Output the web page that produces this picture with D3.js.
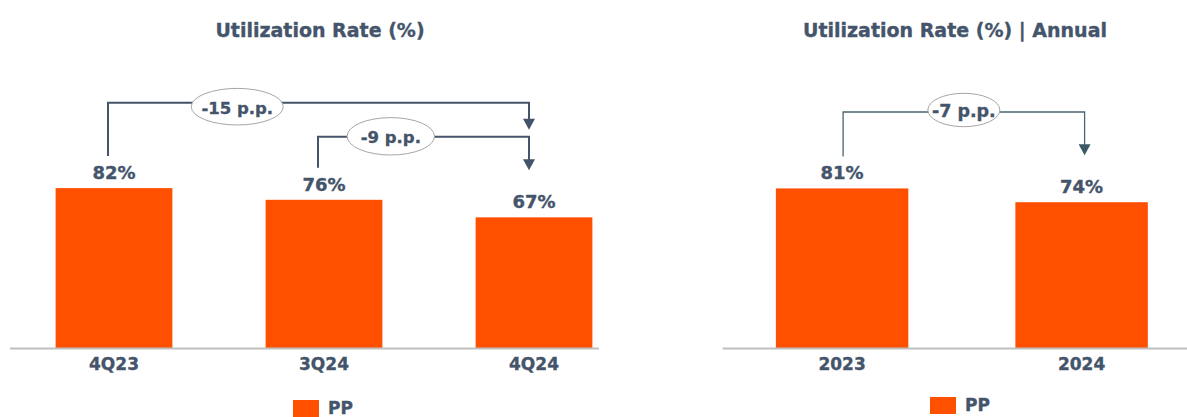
<!DOCTYPE html>
<html>
<head>
<meta charset="utf-8">
<script src="https://cdn.jsdelivr.net/npm/d3@7"></script>
<style>
  html, body { margin: 0; padding: 0; background: #fff; }
  svg { display: block; }
  text { font-family: "DejaVu Sans", Verdana, sans-serif; font-weight: bold; fill: #44546A; stroke: #44546A; stroke-width: 0.35px; }
</style>
</head>
<body>
<svg id="chart" width="1187" height="417"></svg>
<script>
// Quarterly utilization
const quarterCategories = ["4Q23", "3Q24", "4Q24"];
const quarterValues = [82, 76, 67];
const quarterChanges = [
  { from: "4Q23", to: "4Q24" },
  { from: "3Q24", to: "4Q24" }
];

// Annual utilization
const annualCategories = ["2023", "2024"];
const annualValues = [81, 74];
const annualChanges = [
  { from: "2023", to: "2024" }
];

const seriesName = "PP";
const titles = ["Utilization Rate (%)", "Utilization Rate (%) | Annual"];

const BAR = "#FF5000";
const INK = "#44546A";
const svg = d3.select("#chart");

// downward triangular arrowhead with its tip at (x, y)
function arrowHead(g, x, y, color) {
  g.append("path")
    .attr("d", `M${x - 6},${y - 11} L${x + 6},${y - 11} L${x},${y} Z`)
    .attr("fill", color);
}

function drawPanel(cfg) {
  const g = svg.append("g");
  const data = cfg.categories.map((c, i) => ({ cat: c, value: cfg.values[i] }));
  const valueOf = c => data.find(d => d.cat === c).value;

  const x = d3.scaleBand()
    .domain(cfg.categories)
    .range(cfg.xRange)
    .paddingInner(cfg.padInner)
    .paddingOuter(cfg.padOuter);
  const y = d3.scaleLinear().domain([0, 100]).range([348, cfg.yTop]);
  const cx = c => x(c) + x.bandwidth() / 2;

  // title
  g.append("text")
    .attr("x", cfg.titleX).attr("y", 37)
    .attr("text-anchor", "middle")
    .style("font-size", "19px")
    .text(cfg.title);

  // bars
  g.selectAll("rect.bar").data(data).join("rect")
    .attr("class", "bar")
    .attr("x", d => x(d.cat))
    .attr("y", d => y(d.value))
    .attr("width", x.bandwidth())
    .attr("height", d => y(0) - y(d.value))
    .attr("fill", BAR);

  // value labels
  g.selectAll("text.val").data(data).join("text")
    .attr("class", "val")
    .attr("x", d => cx(d.cat))
    .attr("y", d => y(d.value) - 9)
    .attr("text-anchor", "middle")
    .style("font-size", "18px")
    .text(d => d.value + "%");

  // baseline
  g.append("line")
    .attr("x1", cfg.axisExtent[0]).attr("x2", cfg.axisExtent[1])
    .attr("y1", y(0) + 0.5).attr("y2", y(0) + 0.5)
    .attr("stroke", "#BFBFBF").attr("stroke-width", 2);

  // category axis
  const axis = g.append("g")
    .attr("transform", `translate(0,${y(0)})`)
    .call(d3.axisBottom(x).tickSize(0).tickPadding(0));
  axis.select(".domain").remove();
  axis.selectAll("text")
    .attr("y", 22)
    .attr("dy", null)
    .style("font-size", "17px")
    .style("font-family", "'DejaVu Sans', Verdana, sans-serif")
    .style("font-weight", "bold")
    .attr("fill", INK);

  // change brackets
  cfg.changes.forEach((ch, i) => {
    const lay = cfg.bracket[i];
    const v0 = valueOf(ch.from), v1 = valueOf(ch.to);
    const x0 = cx(ch.from) + cfg.dxStart, x1 = cx(ch.to) + cfg.dxEnd;
    const yStart = y(v0) - 32;
    const tip = i === cfg.changes.length - 1 ? y(v1) - 47 : cfg.bracket[i + 1].level - 7;
    g.append("path")
      .attr("d", `M${x0},${yStart} V${lay.level} H${x1} V${tip - 10}`)
      .attr("fill", "none")
      .attr("stroke", cfg.lineColor)
      .attr("stroke-width", cfg.lineWidth);
    arrowHead(g, x1, tip, cfg.arrowColor);
    const ex = x0 + (x1 - x0) * lay.at;
    const ey = lay.level + lay.dy;
    g.append("ellipse")
      .attr("cx", ex).attr("cy", ey)
      .attr("rx", lay.rx).attr("ry", lay.ry)
      .attr("fill", "#fff")
      .attr("stroke", "#A6A6A6").attr("stroke-width", 1);
    g.append("text")
      .attr("x", ex).attr("y", ey + 6.8)
      .attr("text-anchor", "middle")
      .style("font-size", cfg.changeFont)
      .text(`${v1 - v0} p.p.`);
  });

  // legend
  const lg = g.append("g").attr("transform", `translate(${cfg.legend[0]},${cfg.legend[1]})`);
  lg.append("rect").attr("width", 26).attr("height", 17).attr("fill", BAR);
  lg.append("text").attr("x", 35).attr("y", 14).style("font-size", "17px").text(seriesName);
}

drawPanel({
  title: titles[0], titleX: 320,
  categories: quarterCategories, values: quarterValues, changes: quarterChanges,
  xRange: [9, 639], padInner: 0.444, padOuter: 0.222, yTop: 153,
  axisExtent: [10, 599],
  dxStart: -6, dxEnd: -5,
  lineColor: INK, lineWidth: 2, arrowColor: INK, changeFont: "16.5px",
  bracket: [
    { level: 102.7, at: 0.307, dy: 4, rx: 46, ry: 18.3 },
    { level: 136.7, at: 0.345, dy: -0.4, rx: 43.7, ry: 18.7 }
  ],
  legend: [293, 400]
});

drawPanel({
  title: titles[1], titleX: 955,
  categories: annualCategories, values: annualValues, changes: annualChanges,
  xRange: [722, 1201.7], padInner: 0.447, padOuter: 0.225, yTop: 151,
  axisExtent: [722.5, 1190],
  dxStart: 1, dxEnd: 3,
  lineColor: "#4A6472", lineWidth: 1.3, arrowColor: "#3D5966", changeFont: "17.5px",
  bracket: [
    { level: 112, at: 0.5, dy: -2, rx: 36, ry: 16.7 }
  ],
  legend: [930, 397]
});
</script>
</body>
</html>
